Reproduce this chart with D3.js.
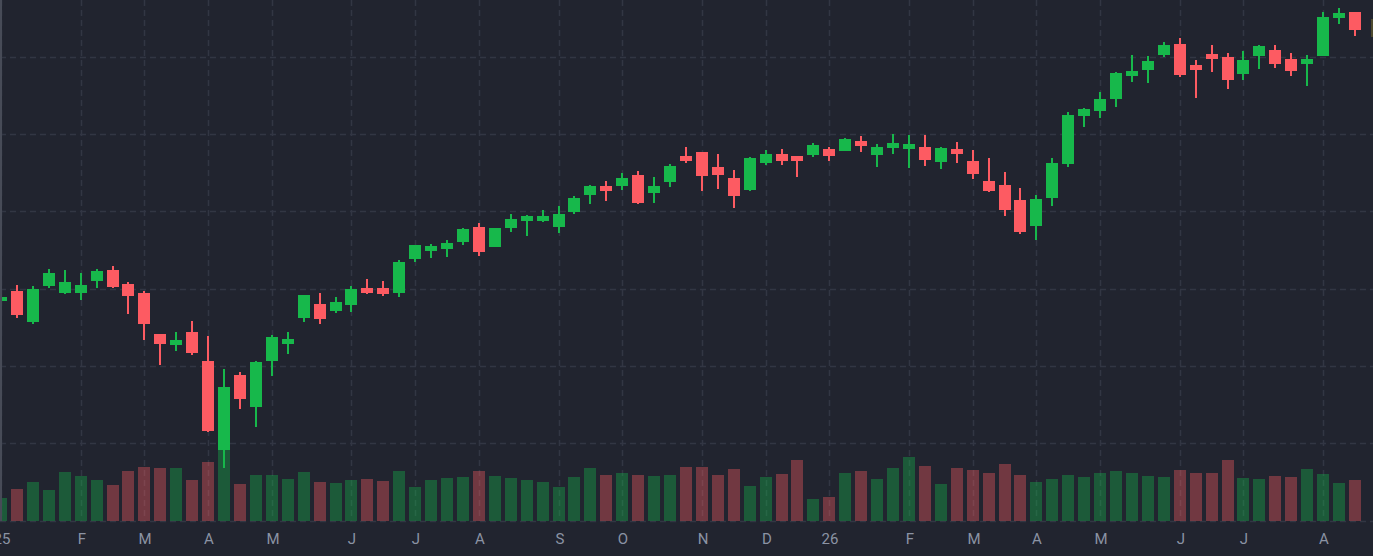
<!DOCTYPE html>
<html>
<head>
<meta charset="utf-8">
<script src="https://cdn.jsdelivr.net/npm/d3@7"></script>
<style>
  html, body { margin: 0; padding: 0; background: #21242f; overflow: hidden; }
  .tick-label { font-family: Roboto, "Noto Sans", sans-serif; font-size: 15px; fill: #8b93a4; }
</style>
</head>
<body>
<div id="chart"></div>
<script>
'use strict';

// weekly bars, dated on the Friday close
var weeks = d3.utcFriday.range(new Date(Date.UTC(2025, 0, 3)), new Date(Date.UTC(2026, 7, 22)));

// first bar of each month gets a label, january shows the year
var monthLabels = ["25", "F", "M", "A", "M", "J", "J", "A", "S", "O", "N", "D",
  "26", "F", "M", "A", "M", "J", "J", "A"];

var opens = [584.1, 597.0, 556.9, 603.5, 594.4, 594.4, 610.0, 624.2, 606.1, 594.4,
  541.4, 527.2, 544.0, 506.5, 391.3, 488.4, 447.0, 506.5, 528.5, 562.1,
  580.2, 571.2, 578.9, 600.9, 600.9, 594.4, 638.4, 648.8, 651.4, 660.4,
  679.8, 654.0, 678.5, 687.6, 687.6, 679.8, 699.2, 721.2, 732.9, 732.9,
  747.1, 723.8, 738.1, 771.7, 776.9, 757.5, 743.2, 727.7, 762.6, 774.3,
  771.7, 773.0, 780.7, 778.2, 791.1, 773.0, 782.0, 780.7, 783.3, 763.9,
  780.7, 765.2, 739.3, 734.2, 714.8, 681.1, 717.4, 761.3, 823.4, 829.9,
  845.4, 875.2, 882.9, 902.4, 916.6, 889.4, 903.6, 899.8, 877.8, 901.1,
  908.8, 897.2, 890.7, 901.1, 950.2, 958.0];

var highs = [590.6, 604.8, 603.5, 625.5, 624.2, 620.3, 625.5, 629.4, 608.7, 597.0,
  541.8, 544.0, 558.2, 538.8, 496.1, 492.2, 506.5, 540.1, 544.0, 592.3,
  594.4, 589.3, 603.5, 612.6, 610.0, 637.1, 656.9, 657.8, 663.0, 678.5,
  685.0, 678.8, 696.6, 695.4, 701.8, 707.0, 719.9, 734.2, 739.3, 749.7,
  752.3, 744.5, 761.3, 783.3, 777.2, 774.3, 753.6, 770.4, 779.4, 780.7,
  772.0, 788.5, 783.3, 795.0, 797.6, 787.2, 800.1, 798.9, 798.9, 783.3,
  789.8, 779.4, 769.1, 751.0, 730.3, 721.2, 769.1, 828.6, 833.8, 854.5,
  880.4, 902.4, 901.1, 919.2, 924.3, 895.9, 915.3, 904.9, 907.5, 915.3,
  915.3, 904.9, 902.4, 958.0, 963.2, 958.3];

var lows = [582.8, 562.1, 554.3, 600.9, 593.1, 585.4, 600.9, 601.5, 567.3, 533.6,
  501.3, 519.4, 514.2, 414.6, 368.0, 444.4, 421.1, 487.1, 515.5, 556.9,
  554.3, 568.6, 569.9, 593.1, 590.6, 589.3, 634.5, 639.7, 641.0, 656.5,
  642.3, 653.7, 673.4, 668.2, 686.3, 672.1, 696.6, 709.6, 713.5, 727.7,
  709.6, 710.9, 731.6, 762.6, 726.4, 729.0, 704.4, 726.4, 760.0, 760.0,
  744.5, 770.4, 765.2, 777.9, 776.9, 757.5, 774.3, 756.2, 758.8, 754.9,
  762.6, 741.9, 725.1, 694.1, 670.8, 663.0, 707.0, 757.5, 809.2, 820.8,
  835.1, 867.4, 866.1, 899.8, 873.9, 846.7, 880.4, 858.4, 870.0, 884.2,
  885.5, 875.2, 862.2, 900.8, 942.5, 926.9];

var closes = [589.3, 566.0, 599.6, 620.3, 608.7, 604.8, 622.9, 602.2, 590.6, 554.3,
  528.5, 533.6, 516.8, 415.9, 472.8, 457.3, 505.2, 537.5, 534.9, 591.9,
  560.8, 582.8, 599.6, 594.4, 593.1, 634.5, 656.5, 655.3, 659.1, 677.2,
  647.5, 678.5, 690.2, 694.1, 694.1, 696.6, 717.4, 732.9, 726.4, 743.2,
  710.9, 732.9, 758.8, 765.2, 745.8, 747.1, 719.9, 769.1, 774.3, 765.2,
  765.2, 785.9, 771.7, 793.7, 784.6, 783.3, 788.5, 787.2, 766.5, 782.0,
  774.3, 748.4, 726.4, 701.8, 673.4, 716.1, 762.6, 824.7, 832.5, 845.4,
  879.1, 881.7, 894.6, 915.3, 876.5, 882.9, 897.2, 870.0, 895.9, 914.0,
  890.7, 881.7, 897.2, 951.5, 956.7, 934.7];

// volume, millions
var volumes = [2.3, 3.2, 3.9, 3.1, 4.9, 4.5, 4.1, 3.6, 5.0, 5.4,
  5.3, 5.3, 4.1, 5.9, 7.1, 3.7, 4.6, 4.6, 4.2, 4.9,
  3.9, 3.8, 4.1, 4.2, 4.0, 5.0, 3.4, 4.1, 4.3, 4.4,
  5.0, 4.5, 4.3, 4.1, 3.9, 3.4, 4.4, 5.3, 4.6, 4.8,
  4.6, 4.5, 4.6, 5.4, 5.4, 4.6, 5.2, 3.5, 4.4, 4.7,
  6.1, 2.2, 2.4, 4.8, 5.0, 4.2, 5.3, 6.4, 5.5, 3.7,
  5.3, 5.1, 4.8, 5.7, 4.6, 3.9, 4.2, 4.6, 4.4, 4.8,
  5.0, 4.8, 4.5, 4.4, 5.1, 4.8, 4.8, 6.1, 4.3, 4.2,
  4.5, 4.4, 5.2, 4.7, 3.8, 4.1];

var priceTicks = [300, 400, 500, 600, 700, 800, 900];

var width = 1373, height = 556;
var paneBottom = 520.6;
var upColor = "#17b84b", downColor = "#fd5b62";
var gridColor = "#323643";

var bars = weeks.map(function (d, i) {
  return { date: d, open: opens[i], high: highs[i], low: lows[i], close: closes[i], volume: volumes[i] };
});

var x = d3.scalePoint()
  .domain(weeks.map(function (d) { return +d; }))
  .range([1, 1355]);

var y = d3.scaleLinear()
  .domain([300, 973.5])
  .range([paneBottom, 0]);

var yVol = d3.scaleLinear()
  .domain([0, 10])
  .range([paneBottom, paneBottom - 100]);

function cx(d) { return Math.round(x(+d.date)); }
function isUp(d) { return d.close >= d.open; }

// month ticks = first weekly bar inside a new month
var tickBars = bars.filter(function (d, i) {
  return i == 0 || d.date.getUTCMonth() != bars[i - 1].date.getUTCMonth();
});

var svg = d3.select("#chart")
  .append("svg")
  .attr("width", width)
  .attr("height", height)
  .style("display", "block");

svg.append("rect")
  .attr("width", width)
  .attr("height", height)
  .attr("fill", "#21242f");

// grid
var grid = svg.append("g").attr("class", "grid");

grid.selectAll("line.h")
  .data(priceTicks)
  .enter().append("line")
  .attr("class", "h")
  .attr("x1", 0)
  .attr("x2", width)
  .attr("y1", function (d) { return Math.round(y(d)) + 0.5; })
  .attr("y2", function (d) { return Math.round(y(d)) + 0.5; })
  .attr("stroke", gridColor)
  .attr("stroke-width", 1.5)
  .attr("stroke-dasharray", "6,4");

grid.selectAll("line.v")
  .data(tickBars)
  .enter().append("line")
  .attr("class", "v")
  .attr("x1", function (d) { return cx(d) + 0.5; })
  .attr("x2", function (d) { return cx(d) + 0.5; })
  .attr("y1", 0)
  .attr("y2", paneBottom)
  .attr("stroke", gridColor)
  .attr("stroke-width", 1.5)
  .attr("stroke-dasharray", "6,4");

// volume histogram
svg.append("g")
  .attr("class", "volume")
  .selectAll("rect")
  .data(bars)
  .enter().append("rect")
  .attr("x", function (d) { return cx(d) - 6; })
  .attr("width", 12)
  .attr("y", function (d) { return Math.round(yVol(d.volume)); })
  .attr("height", function (d) { return Math.round(paneBottom) - Math.round(yVol(d.volume)); })
  .attr("fill", function (d) { return isUp(d) ? upColor : downColor; })
  .attr("fill-opacity", 0.37)
  .attr("shape-rendering", "crispEdges");

// candles
var candle = svg.append("g")
  .attr("class", "candles")
  .selectAll("g")
  .data(bars)
  .enter().append("g")
  .attr("fill", function (d) { return isUp(d) ? upColor : downColor; })
  .attr("shape-rendering", "crispEdges");

candle.append("rect")
  .attr("class", "wick")
  .attr("x", function (d) { return cx(d) - 1; })
  .attr("width", 2)
  .attr("y", function (d) { return Math.round(y(d.high)); })
  .attr("height", function (d) { return Math.max(1, Math.round(y(d.low)) - Math.round(y(d.high))); });

candle.append("rect")
  .attr("class", "body")
  .attr("x", function (d) { return cx(d) - 6; })
  .attr("width", 12)
  .attr("y", function (d) { return Math.round(y(Math.max(d.open, d.close))); })
  .attr("height", function (d) {
    return Math.max(2, Math.round(y(Math.min(d.open, d.close))) - Math.round(y(Math.max(d.open, d.close))));
  });

// left edge of the pane
svg.append("rect")
  .attr("x", 0)
  .attr("y", 0)
  .attr("width", 2)
  .attr("height", Math.round(paneBottom))
  .attr("fill", "#474b57");

// last price tag peeking in at the right edge
var last = bars[bars.length - 1];
svg.append("rect")
  .attr("x", width - 2)
  .attr("y", Math.round(y(last.open)) + 7)
  .attr("width", 2)
  .attr("height", 18)
  .attr("fill", "#4e4a2e");

// time axis
svg.append("g")
  .attr("class", "x-axis")
  .selectAll("text")
  .data(tickBars)
  .enter().append("text")
  .attr("class", "tick-label")
  .attr("x", function (d) { return cx(d) + 1; })
  .attr("y", 544)
  .attr("text-anchor", "middle")
  .text(function (d, i) { return monthLabels[i]; });
</script>
</body>
</html>
